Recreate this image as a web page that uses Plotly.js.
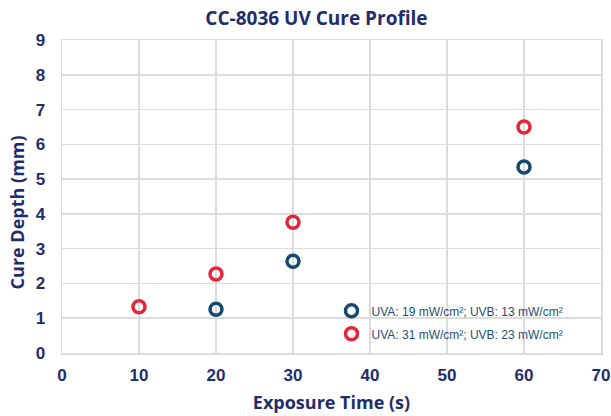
<!DOCTYPE html>
<html>
<head>
<meta charset="utf-8">
<script src="https://cdn.plot.ly/plotly-3.0.1.min.js"></script>
<style>html,body{margin:0;padding:0;background:#fff;}#chart{width:611px;height:416px;}</style>
</head>
<body>
<div id="chart"></div>
<script>
const seriesNames = ["UVA: 19 mW/cm²; UVB: 13 mW/cm²", "UVA: 31 mW/cm²; UVB: 23 mW/cm²"];
const timeLow = [20, 30, 60];
const depthLow = [1.26, 2.64, 5.35];
const timeHigh = [10, 20, 30, 60];
const depthHigh = [1.33, 2.27, 3.76, 6.50];
const xTicks = [0, 10, 20, 30, 40, 50, 60, 70];
const yTicks = [0, 1, 2, 3, 4, 5, 6, 7, 8, 9];

const navy = "#1f2d6b";
const blue = "#17496e";
const red = "#e3263a";

const traces = [
  {x: timeLow, y: depthLow, name: seriesNames[0], mode: "markers", type: "scatter", legendgroup: "a",
   marker: {symbol: "circle-open", size: 12, color: blue, line: {width: 3.5, color: blue}}},
  {x: timeHigh, y: depthHigh, name: seriesNames[1], mode: "markers", type: "scatter", legendgroup: "b",
   marker: {symbol: "circle-open", size: 12, color: red, line: {width: 3.5, color: red}}}
];

const tickFont = {family: "Liberation Sans, Arial, sans-serif", size: 17, color: navy, weight: "bold"};
const titleFont = {family: "Open Sans, sans-serif", size: 18, color: navy};

const layout = {
  width: 611, height: 416,
  margin: {l: 62, r: 10, t: 40, b: 63},
  paper_bgcolor: "#fff", plot_bgcolor: "#fff",
  title: {text: "<b>CC-8036 UV Cure Profile</b>", x: 0.518, xanchor: "center", y: 0.957, yanchor: "middle",
          font: {family: "Open Sans, sans-serif", size: 19, color: navy}},
  xaxis: {range: [0, 70], tickvals: xTicks, ticktext: xTicks.map(String), showgrid: true, gridcolor: "#dcdcdc", gridwidth: 1.5,
          zeroline: false, showline: true, linecolor: "#dcdcdc", linewidth: 1.5, mirror: true,
          ticks: "", ticklen: 0, ticklabelstandoff: 6,
          tickfont: tickFont,
          title: {text: "<b>Exposure Time (s)</b>", standoff: 12, font: titleFont}},
  yaxis: {range: [0, 9], tickvals: yTicks, ticktext: yTicks.map(String), showgrid: true, gridcolor: "#dcdcdc", gridwidth: 1.5,
          zeroline: false, showline: true, linecolor: "#dcdcdc", linewidth: 1.5, mirror: true,
          ticks: "", ticklen: 0, ticklabelstandoff: 12,
          tickfont: tickFont},
  annotations: [
    {text: "<b>Cure Depth (mm)</b>", xref: "paper", yref: "paper", x: -0.083, y: 0.45,
     xanchor: "center", yanchor: "middle", textangle: -90, showarrow: false, font: titleFont}
  ],
  showlegend: true,
  legend: {x: 0.5, y: 0.181, xanchor: "left", yanchor: "top", bgcolor: "rgba(255,255,255,0)",
           traceorder: "grouped", tracegroupgap: 4, itemwidth: 30,
           font: {family: "Liberation Sans, Arial, sans-serif", size: 12, color: "#1d4f72"}}
};

Plotly.newPlot("chart", traces, layout, {displayModeBar: false, staticPlot: true});
</script>
</body>
</html>
